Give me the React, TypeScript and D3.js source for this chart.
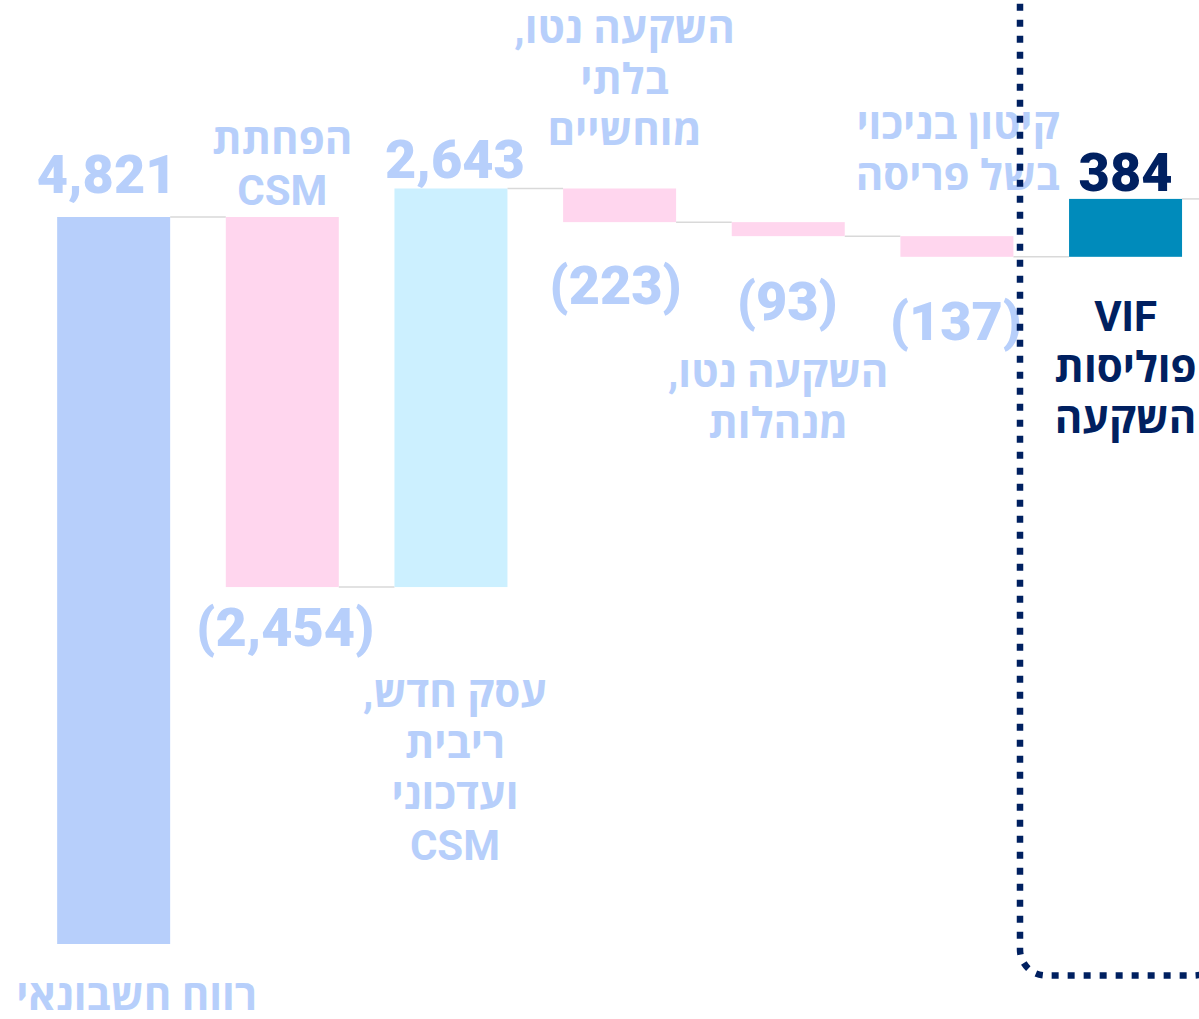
import React from "react";
import * as d3 from "d3";

const categories = [
  "רווח חשבונאי",
  "הפחתת CSM",
  "עסק חדש, ריבית ועדכוני CSM",
  "השקעה נטו, בלתי מוחשיים",
  "השקעה נטו, מנהלות",
  "קיטון בניכוי בשל פריסה",
  "VIF פוליסות השקעה",
];
const categoryLines = [
  ["רווח חשבונאי"],
  ["הפחתת", "CSM"],
  ["עסק חדש,", "ריבית", "ועדכוני", "CSM"],
  ["השקעה נטו,", "בלתי", "מוחשיים"],
  ["השקעה נטו,", "מנהלות"],
  ["קיטון בניכוי", "בשל פריסה"],
  ["VIF", "פוליסות", "השקעה"],
];
const values = [4821, -2454, 2643, -223, -93, -137, 384];
const valueLabels = ["4,821", "(2,454)", "2,643", "(223)", "(93)", "(137)", "384"];
const kinds = ["total", "decrease", "increase", "decrease", "decrease", "decrease", "highlight"];

// layout (not data): label offsets
const layout = [
  { vDy: -24, vDx: -7, cPos: "below", cDy: 66, cDx: 23 },
  { vDy: 59, vDx: 3, cPos: "above", cDy: -12, cDx: 0 },
  { vDy: -10, vDx: 4, cPos: "below", cDy: 120, cDx: 4 },
  { vDy: 82, vDx: -4, cPos: "above", cDy: -43, cDx: 5 },
  { vDy: 84, vDx: -1, cPos: "below", cDy: 151, cDx: -10 },
  { vDy: 83, vDx: -1, cPos: "above", cDy: -46, cDx: 1 },
  { vDy: -8, vDx: 0, cPos: "below", cDy: 74, cDx: 0 },
];

const W = 1199;
const H = 1019;
const LH = 51;

const colors: Record<string, string> = {
  total: "#b7cffb",
  decrease: "#ffd6ee",
  increase: "#ccf0ff",
  highlight: "#008bbb",
};
const lightText = "#b7cffb";
const navy = "#002060";
const FONT = "Roboto, 'Open Sans', 'DejaVu Sans', sans-serif";

export default function App() {
  let level = 0;
  const bars = values.map((v, i) => {
    const start = level;
    const end = level + v;
    level = end;
    return { i, start, end, lo: Math.min(start, end), hi: Math.max(start, end) };
  });

  const x = d3
    .scaleBand<string>()
    .domain(categories)
    .range([1.5, 1237.7])
    .paddingInner(0.33)
    .paddingOuter(0.33);
  const y = d3.scaleLinear().domain([0, 4821]).range([944, 217]);
  const bw = x.bandwidth();

  return (
    <svg
      width={W}
      height={H}
      style={{ position: "absolute", left: 0, top: 0, background: "#fff" }}
      fontFamily={FONT}
      fontWeight={700}
    >
      {bars.map((b, i) => {
        const x0 = (x(categories[i]) as number) + bw;
        const x1 = i < bars.length - 1 ? (x(categories[i + 1]) as number) : W;
        return (
          <line
            key={"c" + i}
            x1={x0}
            x2={x1}
            y1={y(b.end)}
            y2={y(b.end)}
            stroke="#d9d9d9"
            strokeWidth={1.5}
          />
        );
      })}
      {bars.map((b, i) => (
        <rect
          key={"b" + i}
          x={x(categories[i])}
          y={y(b.hi)}
          width={bw}
          height={y(b.lo) - y(b.hi)}
          fill={colors[kinds[i]]}
        />
      ))}
      {bars.map((b, i) => {
        const cx = (x(categories[i]) as number) + bw / 2 + layout[i].vDx;
        const neg = values[i] < 0;
        const yy = neg ? y(b.lo) + layout[i].vDy : y(b.hi) + layout[i].vDy;
        return (
          <text
            key={"v" + i}
            x={cx}
            y={yy}
            textAnchor="middle"
            fontSize={54}
            fontWeight={900}
            fill={kinds[i] === "highlight" ? navy : lightText}
          >
            {valueLabels[i]}
          </text>
        );
      })}
      {bars.map((b, i) => {
        const cx = (x(categories[i]) as number) + bw / 2 + layout[i].cDx;
        const lines = categoryLines[i];
        const L = layout[i];
        let firstBase: number;
        if (L.cPos === "below") {
          firstBase = y(b.lo) + L.cDy;
        } else {
          const lastBase = y(b.hi) + L.cDy;
          firstBase = lastBase - (lines.length - 1) * LH;
        }
        return (
          <text
            key={"t" + i}
            textAnchor="middle"
            fontSize={42}
            direction="rtl"
            fill={kinds[i] === "highlight" ? navy : lightText}
          >
            {lines.map((ln, j) => (
              <tspan key={j} x={cx} y={firstBase + j * LH}>
                {ln}
              </tspan>
            ))}
          </text>
        );
      })}
      <rect
        x={1020}
        y={-40}
        width={200}
        height={1015.5}
        rx={26}
        ry={26}
        fill="none"
        stroke={navy}
        strokeWidth={6.5}
        strokeDasharray="7 9"
      />
    </svg>
  );
}
